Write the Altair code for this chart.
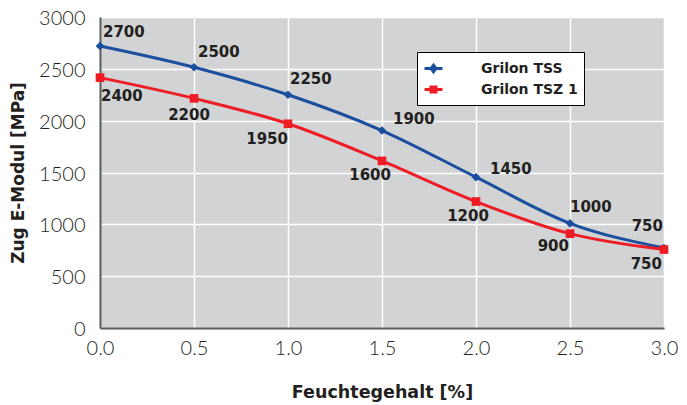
import altair as alt
import pandas as pd

# ---- data ----
feuchte = [0.0, 0.5, 1.0, 1.5, 2.0, 2.5, 3.0]
tss_values = [2720, 2515, 2250, 1905, 1455, 1010, 772]
tsz_values = [2415, 2215, 1970, 1612, 1220, 910, 757]
tss_labels = ["2700", "2500", "2250", "1900", "1450", "1000", "750"]
tsz_labels = ["2400", "2200", "1950", "1600", "1200", "900", "750"]
series_names = ["Grilon TSS", "Grilon TSZ 1"]
x_ticks = [0.0, 0.5, 1.0, 1.5, 2.0, 2.5, 3.0]
y_ticks = [0, 500, 1000, 1500, 2000, 2500, 3000]

# ---- label placement (style, not data) ----
tss_label_pos = [(3, -14, "left"), (4, -15, "left"), (2, -16, "left"), (11, -12, "left"),
                 (14, -8, "left"), (0, -16, "left"), (-1, -22, "right")]
tsz_label_pos = [(1, 18, "left"), (-5, 17, "center"), (0, 15, "right"), (9, 14, "right"),
                 (-8, 14, "center"), (-1, 12, "right"), (-2, 14, "right")]

BLUE = "#1c4e9e"
RED = "#ee1d25"
TXT = "#231f20"
DIAMOND_SYM = "M-1,0H1M0,-0.36L0.27,0L0,0.36L-0.27,0Z"
SQUARE_SYM = "M-1,0H1M-0.28,-0.28H0.28V0.28H-0.28Z"

rows = []
for name, vals, labs in [(series_names[0], tss_values, tss_labels),
                         (series_names[1], tsz_values, tsz_labels)]:
    for x, v, l in zip(feuchte, vals, labs):
        rows.append({"Feuchte": x, "Modul": v, "Serie": name, "Label": l})
df = pd.DataFrame(rows)

x_enc = alt.X("Feuchte:Q",
              scale=alt.Scale(domain=[0, 3], nice=False, zero=False),
              axis=alt.Axis(values=x_ticks, format=".1f", title="Feuchtegehalt [%]",
                            grid=True, tickSize=0, labelPadding=10, titlePadding=25,
                            labelFlush=False, titleFontSize=17.5))
y_enc = alt.Y("Modul:Q",
              scale=alt.Scale(domain=[0, 3000], nice=False),
              axis=alt.Axis(values=y_ticks, format="d", title="Zug E-Modul [MPa]",
                            grid=True, tickSize=0, labelPadding=15, titlePadding=11,
                            labelFlush=False, labelOffset=1.5, titleFontSize=17))

color_scale = alt.Scale(domain=series_names, range=[BLUE, RED])

legend = alt.Legend(
    title=None, orient="none", legendX=317, legendY=35,
    fillColor="white", strokeColor="black",
    padding=6, labelFont="DejaVu Sans", labelFontSize=14,
    labelFontWeight="bold", labelColor=TXT,
    labelOffset=37, symbolSize=324, symbolStrokeWidth=3,
    rowPadding=1, labelLimit=200, symbolOpacity=1,
    symbolType=alt.ExprRef(expr="datum.value === '%s' ? '%s' : '%s'"
                           % (series_names[0], DIAMOND_SYM, SQUARE_SYM)),
    symbolFillColor=alt.ExprRef(expr="scale('color', datum.value)"),
    symbolStrokeColor=alt.ExprRef(expr="scale('color', datum.value)"),
)

base = alt.Chart(df)

lines = base.mark_line(strokeWidth=3, interpolate="monotone").encode(
    x=x_enc, y=y_enc,
    color=alt.Color("Serie:N", scale=color_scale, legend=legend),
)

tss_pts = base.transform_filter(alt.datum.Serie == series_names[0]).mark_point(
    shape="diamond", filled=True, size=75, opacity=1).encode(
    x="Feuchte:Q", y="Modul:Q",
    color=alt.Color("Serie:N", scale=color_scale, legend=None))
tsz_pts = base.transform_filter(alt.datum.Serie == series_names[1]).mark_point(
    shape="square", filled=True, size=75, opacity=1).encode(
    x="Feuchte:Q", y="Modul:Q",
    color=alt.Color("Serie:N", scale=color_scale, legend=None))

text_layers = []
for name, positions in [(series_names[0], tss_label_pos), (series_names[1], tsz_label_pos)]:
    for i, (dx, dy, al) in enumerate(positions):
        sub = df[(df["Serie"] == name)].iloc[[i]]
        text_layers.append(
            alt.Chart(sub).mark_text(dx=dx, dy=dy, align=al, baseline="middle",
                                     font="DejaVu Sans", fontSize=15, fontWeight="bold",
                                     color=TXT).encode(
                x="Feuchte:Q", y="Modul:Q", text="Label:N"))

chart = alt.layer(lines, tss_pts, tsz_pts, *text_layers).properties(
    width=564, height=311,
    autosize=alt.AutoSizeParams(type="none"),
    padding={"left": 92, "top": 9, "right": 15, "bottom": 74},
    background="white",
).configure_view(
    fill="#d1d3d4", stroke=None
).configure_axis(
    gridColor="white", gridWidth=1.5, domainColor="#58595b", domainWidth=2,
    labelFont="Lato", labelFontSize=20, labelFontWeight=300, labelColor=TXT,
    titleFont="DejaVu Sans", titleFontWeight="bold", titleColor=TXT,
)

chart.save("out.html", embed_options={"renderer": "svg", "actions": False})
